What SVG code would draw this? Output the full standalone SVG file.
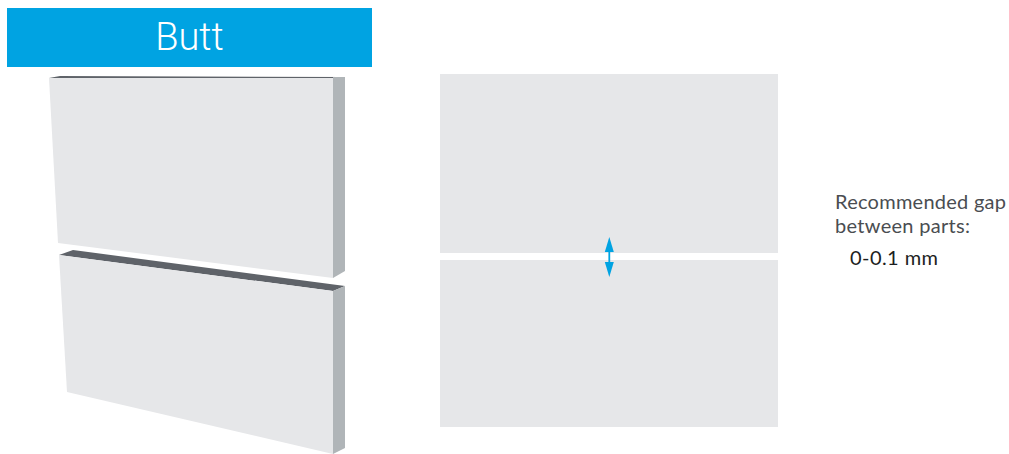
<svg xmlns="http://www.w3.org/2000/svg" width="1009" height="454" viewBox="0 0 1009 454">
<style>
.face{fill:#e6e7e9}
.side{fill:#b0b5b8}
.top{fill:#5f6369}
.note{font-family:Lato,"Liberation Sans",sans-serif;font-size:20px;font-weight:400;fill:#4a4d51}
.val{font-family:Lato,"Liberation Sans",sans-serif;font-size:20px;font-weight:400;fill:#1c1e21}
.title{font-family:Roboto,"Liberation Sans",sans-serif;font-size:38px;font-weight:300;fill:#fff;text-anchor:middle}
</style>
<rect x="0" y="0" width="1009" height="454" fill="#fff"/>
<g id="banner">
<rect x="7" y="8" width="365" height="59" fill="#00a3e2"/>
<text class="title" x="189.500" y="50">Butt</text>
</g>
<g id="upper-part">
<polygon class="top" points="49,78 60,76 345,77 333,78"/>
<polygon class="face" points="49,78 333,78 333,278 58,243"/>
<polygon class="side" points="333,78 333,77 345,77 345,271 333,278"/>
</g>
<g id="lower-part">
<polygon class="top" points="59,255 73,250 345,286 333,291"/>
<polygon class="face" points="59,255 333,291 333,454 67,392"/>
<polygon class="side" points="333,291 345,286 345,448 333,454"/>
</g>
<g id="front-upper"><rect class="face" x="440" y="74" width="338" height="179"/></g>
<g id="front-lower"><rect class="face" x="440" y="260" width="338" height="167"/></g>
<g id="connectors">
<line x1="609.300" y1="248" x2="609.300" y2="266" stroke="#00a3e2" stroke-width="1.800"/>
<polygon points="609.300,237 604.800,252 613.800,252" fill="#00a3e2"/>
<polygon points="609.300,277 604.800,262 613.800,262" fill="#00a3e2"/>
</g>
<g id="gap-note">
<text class="note" x="835" y="209" textLength="171">Recommended gap</text>
<text class="note" x="835" y="233" textLength="135">between parts:</text>
<text class="val" x="850" y="265" textLength="88">0-0.1 mm</text>
</g>
</svg>
